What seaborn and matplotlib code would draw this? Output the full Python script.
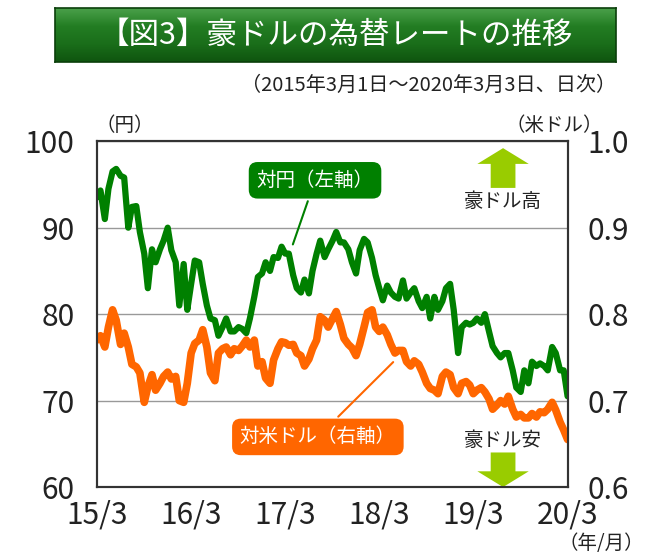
import numpy as np
import pandas as pd
import matplotlib
matplotlib.use("Agg")
import matplotlib.pyplot as plt
import seaborn as sns

# 半月ごとの読み取り値（2015/3/1 ～ 2020/3/1）
aud_jpy = [93.5, 94.3, 91.0, 94.5, 96.5, 96.8, 96.0, 95.8, 90.0, 92.4,
           92.5, 89.5, 87.0, 83.0, 87.5, 86.0, 87.5, 88.5, 90.0, 87.4,
           86.0, 81.0, 85.8, 80.5, 83.5, 86.2, 86.0, 83.5, 81.0, 79.5,
           79.3, 77.5, 78.5, 79.5, 78.0, 78.0, 78.5, 78.3, 77.8, 79.5,
           82.0, 84.3, 84.7, 86.0, 85.0, 86.6, 86.5, 87.8, 87.0, 87.0,
           84.5, 83.0, 82.5, 84.0, 82.4, 85.0, 87.0, 88.5, 86.6, 87.5,
           88.5, 89.5, 88.3, 88.3, 87.5, 86.0, 84.7, 87.4, 88.7, 88.3,
           86.5, 84.5, 83.0, 81.6, 83.3, 82.5, 82.0, 81.8, 83.9, 81.8,
           82.5, 83.0, 81.5, 80.7, 82.0, 79.5, 82.0, 80.5, 81.5, 83.0,
           83.5, 80.5, 75.5, 78.5, 79.0, 78.8, 79.0, 79.5, 79.0, 80.0,
           78.0, 76.3, 75.5, 75.0, 75.5, 75.5, 73.5, 71.5, 71.0, 73.5,
           72.0, 74.5, 74.0, 74.3, 74.0, 73.5, 76.2, 75.5, 73.5, 73.5,
           70.5]
aud_usd = [0.770, 0.775, 0.762, 0.785, 0.805, 0.793, 0.765, 0.778, 0.762, 0.742,
           0.739, 0.732, 0.698, 0.716, 0.730, 0.712, 0.720, 0.728, 0.733, 0.725,
           0.728, 0.700, 0.698, 0.720, 0.755, 0.766, 0.770, 0.782, 0.762, 0.732,
           0.723, 0.755, 0.760, 0.762, 0.753, 0.760, 0.758, 0.763, 0.770, 0.762,
           0.770, 0.740, 0.745, 0.726, 0.720, 0.747, 0.760, 0.768, 0.767, 0.764,
           0.765, 0.755, 0.752, 0.740, 0.748, 0.760, 0.770, 0.797, 0.793, 0.785,
           0.795, 0.803, 0.788, 0.772, 0.765, 0.761, 0.752, 0.765, 0.785, 0.802,
           0.805, 0.785, 0.780, 0.785, 0.776, 0.765, 0.755, 0.758, 0.758, 0.745,
           0.740, 0.746, 0.742, 0.733, 0.720, 0.714, 0.712, 0.708, 0.728, 0.733,
           0.730, 0.715, 0.708, 0.720, 0.722, 0.718, 0.708, 0.712, 0.715, 0.710,
           0.702, 0.690, 0.695, 0.700, 0.696, 0.705, 0.690, 0.681, 0.684, 0.680,
           0.680, 0.685, 0.681, 0.687, 0.686, 0.690, 0.698, 0.689, 0.675, 0.666,
           0.655]
dates = pd.date_range("2015-03-01", periods=len(aud_jpy), freq="SMS")
tick_dates = pd.to_datetime(["2015-03-01", "2016-03-01", "2017-03-01",
                             "2018-03-01", "2019-03-01", "2020-03-01"])
tick_labels = ["15/3", "16/3", "17/3", "18/3", "19/3", "20/3"]

df = pd.DataFrame({"date": dates, "jpy": aud_jpy, "usd": aud_usd})

sns.set_theme(style="white")
plt.rcParams["font.family"] = ["Noto Sans CJK JP", "DejaVu Sans"]

GREEN = "#008000"
ORANGE = "#FF6600"
ARROW = "#99CC00"
TXT = "#222222"

fig = plt.figure(figsize=(6.5, 5.56), dpi=100)
ax = fig.add_axes([0.149, 0.124, 0.725, 0.622])
ax2 = ax.twinx()

sns.lineplot(data=df, x="date", y="jpy", ax=ax, color=GREEN, lw=4.5)
sns.lineplot(data=df, x="date", y="usd", ax=ax2, color=ORANGE, lw=5.5)

ax.set_xlim(pd.Timestamp("2015-03-01"), pd.Timestamp("2020-03-03"))
ax.set_ylim(60, 100)
ax2.set_ylim(0.6, 1.0)
ax.set_yticks([60, 70, 80, 90, 100])
ax2.set_yticks([0.6, 0.7, 0.8, 0.9, 1.0])
ax2.set_yticklabels(["0.6", "0.7", "0.8", "0.9", "1.0"])
ax.set_xticks(tick_dates)
ax.set_xticklabels(tick_labels)
ax.set_xlabel("")
ax.set_ylabel("")
ax2.set_ylabel("")

ax.grid(axis="y", color="#999999", lw=1.0)
ax.tick_params(axis="x", direction="in", length=4, width=1, color="#555555",
               labelsize=21.5, pad=9, labelcolor=TXT)
ax.tick_params(axis="y", length=0, labelsize=21.5, pad=16, labelcolor=TXT)
ax2.tick_params(axis="y", length=0, labelsize=21.5, pad=14, labelcolor=TXT)
for a in (ax, ax2):
    for s in a.spines.values():
        s.set_color("#333333")
        s.set_linewidth(1.5)

# 系列ラベル
box_kw = dict(ha="center", va="center", color="white", fontsize=14,
              xycoords="axes fraction", textcoords="axes fraction")
ax.annotate("対円（左軸）", xy=(0.414, 0.694), xytext=(0.463, 0.887),
            bbox=dict(boxstyle="round,pad=0.4,rounding_size=0.45", fc=GREEN, ec="none"),
            arrowprops=dict(arrowstyle="-", color=GREEN, lw=1.5), **box_kw)
ax.annotate("対米ドル（右軸）", xy=(0.633, 0.367), xytext=(0.469, 0.145),
            bbox=dict(boxstyle="round,pad=0.4,rounding_size=0.45", fc=ORANGE, ec="none"),
            arrowprops=dict(arrowstyle="-", color=ORANGE, lw=1.5), **box_kw)

# 豪ドル高・安の矢印
arrow_style = "simple,head_width=1.37,head_length=0.42,tail_width=0.66"
ax.annotate("", xy=(0.862, 0.98), xytext=(0.862, 0.865), xycoords="axes fraction",
            arrowprops=dict(arrowstyle=arrow_style, color=ARROW, mutation_scale=27,
                            lw=0, shrinkA=0, shrinkB=0))
ax.text(0.862, 0.827, "豪ドル高", transform=ax.transAxes, ha="center", va="center",
        fontsize=14, color=TXT)
ax.annotate("", xy=(0.862, 0.0), xytext=(0.862, 0.10), xycoords="axes fraction",
            arrowprops=dict(arrowstyle=arrow_style, color=ARROW, mutation_scale=27,
                            lw=0, shrinkA=0, shrinkB=0))
ax.text(0.862, 0.135, "豪ドル安", transform=ax.transAxes, ha="center", va="center",
        fontsize=14, color=TXT)

# 単位
fig.text(0.192, 0.775, "（円）", ha="center", va="center", fontsize=14, color=TXT)
fig.text(0.852, 0.775, "（米ドル）", ha="center", va="center", fontsize=14, color=TXT)
fig.text(0.925, 0.022, "（年/月）", ha="center", va="center", fontsize=14, color=TXT)
fig.text(0.948, 0.847, "（2015年3月1日～2020年3月3日、日次）", ha="right", va="center",
         fontsize=14.5, color=TXT)

# タイトル帯（グラデーション）
tax = fig.add_axes([0.085, 0.888, 0.862, 0.097])
grad = np.linspace(0, 1, 64).reshape(-1, 1)
cmap = matplotlib.colors.LinearSegmentedColormap.from_list(
    "g", ["#4aa04a", "#237d23", "#1a6e1a", "#0f550f"])
tax.imshow(grad, aspect="auto", cmap=cmap, extent=[0, 1, 0, 1], origin="upper")
tax.set_xlim(0, 1)
tax.set_ylim(0, 1)
tax.set_xticks([])
tax.set_yticks([])
for s in tax.spines.values():
    s.set_color("#0b3f0b")
    s.set_linewidth(1.2)
tax.text(0.5, 0.5, "【図3】豪ドルの為替レートの推移", ha="center", va="center",
         color="white", fontsize=22, transform=tax.transAxes)

fig.savefig("out.png", dpi=100)
